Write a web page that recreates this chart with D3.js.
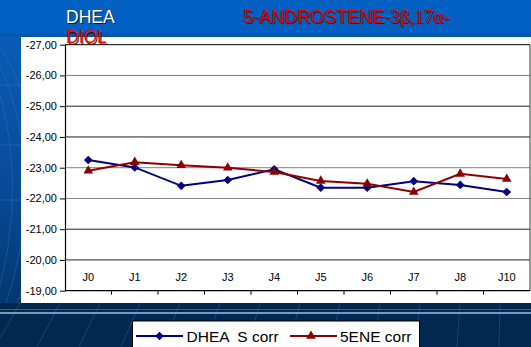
<!DOCTYPE html>
<html>
<head>
<meta charset="utf-8">
<script src="https://cdn.jsdelivr.net/npm/d3@7"></script>
<style>
  html, body { margin: 0; padding: 0; background: #003a78; }
  svg { display: block; }
</style>
</head>
<body>
<svg id="chart" width="531" height="347"></svg>
<script>
// Sampling days
const categories = ["J0", "J1", "J2", "J3", "J4", "J5", "J6", "J7", "J8", "J10"];
// Corrected values per series
const dheaValues = [-23.25, -23.01, -22.41, -22.60, -22.95, -22.35, -22.35, -22.56, -22.44, -22.21];
const eneValues  = [-22.90, -23.18, -23.08, -23.00, -22.86, -22.57, -22.48, -22.21, -22.80, -22.63];
// Y axis tick values (axis runs from -27 at top to -19 at bottom)
const yTicks = [-27, -26, -25, -24, -23, -22, -21, -20, -19];
const seriesNames = ["DHEA  S corr", "5ENE corr"];

const svg = d3.select("#chart");
const W = 531, H = 347;

// ---- Slide background ----
const defs = svg.append("defs");
const lg = defs.append("linearGradient").attr("id", "bgGrad")
  .attr("x1", 0).attr("y1", 0).attr("x2", 0).attr("y2", 1);
lg.append("stop").attr("offset", "0%").attr("stop-color", "#0a5fbe");
lg.append("stop").attr("offset", "55%").attr("stop-color", "#084a96");
lg.append("stop").attr("offset", "100%").attr("stop-color", "#02305f");
svg.append("rect").attr("width", W).attr("height", H).attr("fill", "url(#bgGrad)");

// faint decorative arcs on the left
[120, 170, 230].forEach((r, i) => {
  svg.append("path")
    .attr("d", `M ${-20 + i * 8} 40 Q ${r / 3} 170 ${-10 + i * 10} 320`)
    .attr("fill", "none").attr("stroke", "#3f86d6").attr("stroke-opacity", 0.3).attr("stroke-width", 1);
});
[85, 145, 200].forEach(y => {
  svg.append("line").attr("x1", 0).attr("x2", 21).attr("y1", y).attr("y2", y)
    .attr("stroke", "#3f86d6").attr("stroke-opacity", 0.35);
});

// title band
svg.append("rect").attr("x", 0).attr("y", 0).attr("width", W).attr("height", 33).attr("fill", "#0061c2");
svg.append("rect").attr("x", 0).attr("y", 33).attr("width", W).attr("height", 4).attr("fill", "#0656ad");

// bottom band
svg.append("rect").attr("x", 0).attr("y", 303).attr("width", W).attr("height", H - 303).attr("fill", "#03284f");
for (let i = 0; i < 14; i++) {
  const x0 = 20 + i * 40;
  svg.append("line").attr("x1", x0).attr("y1", 303).attr("x2", x0 - 25 + i * 2).attr("y2", H)
    .attr("stroke", "#2a67a8").attr("stroke-opacity", 0.45).attr("stroke-width", 1);
}
svg.append("line").attr("x1", 0).attr("x2", W).attr("y1", 313).attr("y2", 313)
  .attr("stroke", "#9cc0e0").attr("stroke-width", 1.6);
svg.append("line").attr("x1", 0).attr("x2", W).attr("y1", 309.5).attr("y2", 309.5)
  .attr("stroke", "#4f86bf").attr("stroke-opacity", 0.6).attr("stroke-width", 1);

// chart area
svg.append("rect").attr("x", 21).attr("y", 37).attr("width", W - 21).attr("height", 266).attr("fill", "#ffffff");

// ---- Plot ----
const plot = { left: 65, right: 530, top: 44.7, bottom: 290.7 };
const x = d3.scaleBand().domain(categories).range([plot.left, plot.right]);
const y = d3.scaleLinear().domain([-27, -19]).range([plot.top, plot.bottom]);

// gridlines
const g = svg.append("g");
g.selectAll("line.grid").data(yTicks.slice(1, -1)).join("line")
  .attr("class", "grid")
  .attr("x1", plot.left).attr("x2", plot.right)
  .attr("y1", d => y(d)).attr("y2", d => y(d))
  .attr("stroke", d => (d === -23 || d === -22 || d === -26) ? "#808080" : "#202020")
  .attr("stroke-width", 1);

// frame top / right
g.append("line").attr("x1", plot.left).attr("x2", plot.right).attr("y1", plot.top).attr("y2", plot.top)
  .attr("stroke", "#000").attr("stroke-width", 1);
g.append("line").attr("x1", plot.right).attr("x2", plot.right).attr("y1", plot.top).attr("y2", plot.bottom)
  .attr("stroke", "#555").attr("stroke-width", 1.2);

// Y axis
const yAxis = d3.axisLeft(y).tickValues(yTicks)
  .tickFormat(d => d3.format(".2f")(d).replace(".", ",").replace("−", "-"))
  .tickSize(5).tickSizeOuter(0);
const ya = svg.append("g").attr("transform", `translate(${plot.left},0)`).call(yAxis);
ya.select(".domain").attr("stroke", "#000").attr("stroke-width", 1.2);
ya.selectAll(".tick line").attr("stroke", "#000");
ya.selectAll(".tick text").attr("font-family", "Liberation Sans, Arial, sans-serif")
  .attr("font-size", 11).attr("fill", "#000").attr("x", -8);

// X axis: labels inside plot above the axis, ticks between categories
const xa = svg.append("g").attr("transform", `translate(0,${plot.bottom})`);
xa.append("line").attr("x1", plot.left).attr("x2", plot.right).attr("y1", 0).attr("y2", 0)
  .attr("stroke", "#000").attr("stroke-width", 1.2);
xa.selectAll("line.tk").data(categories.slice(1)).join("line").attr("class", "tk")
  .attr("x1", d => x(d)).attr("x2", d => x(d)).attr("y1", 0).attr("y2", 4)
  .attr("stroke", "#000");
xa.selectAll("text").data(categories).join("text")
  .attr("x", d => x(d) + x.bandwidth() / 2).attr("y", -10)
  .attr("text-anchor", "middle")
  .attr("font-family", "Liberation Sans, Arial, sans-serif").attr("font-size", 11)
  .attr("fill", "#000").text(d => d);

// series
const cx = d => x(d) + x.bandwidth() / 2;
const line = d3.line().x((d, i) => cx(categories[i])).y(d => y(d));
const blue = "#000080", red = "#8b0000";

svg.append("path").datum(dheaValues).attr("d", line)
  .attr("fill", "none").attr("stroke", blue).attr("stroke-width", 2);
svg.append("path").datum(eneValues).attr("d", line)
  .attr("fill", "none").attr("stroke", red).attr("stroke-width", 2);

const diamond = d3.symbol().type(d3.symbolSquare).size(38);
const tri = d3.symbol().type(d3.symbolTriangle).size(40);

svg.selectAll("path.d").data(dheaValues).join("path").attr("class", "d")
  .attr("d", diamond)
  .attr("transform", (d, i) => `translate(${cx(categories[i])},${y(d)}) rotate(45)`)
  .attr("fill", blue);
svg.selectAll("path.t").data(eneValues).join("path").attr("class", "t")
  .attr("d", tri)
  .attr("transform", (d, i) => `translate(${cx(categories[i])},${y(d)})`)
  .attr("fill", red);

// ---- Titles ----
function shadowText(tx, ty, fill, size, family) {
  const t1 = svg.append("text").attr("x", tx + 1.3).attr("y", ty + 1.3)
    .attr("font-family", family).attr("font-size", size).attr("fill", "#111").attr("fill-opacity", 0.8);
  const t2 = svg.append("text").attr("x", tx).attr("y", ty)
    .attr("font-family", family).attr("font-size", size).attr("fill", fill);
  return [t1, t2];
}
const sans = "Liberation Sans, Arial, sans-serif";
const serif = "Liberation Serif, Times New Roman, serif";

shadowText(66, 22.5, "#ffffff", 17.5, sans).forEach(t => t.text("DHEA"));
shadowText(66, 43.3, "#ff0000", 17.5, sans).forEach(t => t.text("DIOL"));
shadowText(243, 22.7, "#e80000", 18, sans).forEach(t => {
  t.append("tspan").text("5-ANDROSTENE-");
  t.append("tspan").attr("font-family", serif).attr("font-size", 19).text("3β,17α-");
});

// ---- Legend ----
const leg = svg.append("g");
leg.append("rect").attr("x", 132.5).attr("y", 321).attr("width", 287).attr("height", 30)
  .attr("fill", "#fff").attr("stroke", "#000").attr("stroke-width", 1);
const legY = 336;
const legendItems = [
  { name: seriesNames[0], color: blue, sym: "d", x0: 136, x1: 183, mx: 159.5, tx: 186.5 },
  { name: seriesNames[1], color: red, sym: "t", x0: 290, x1: 337, mx: 311, tx: 340 }
];
legendItems.forEach(it => {
  leg.append("line").attr("x1", it.x0).attr("x2", it.x1).attr("y1", legY).attr("y2", legY)
    .attr("stroke", it.color).attr("stroke-width", 2.2);
  leg.append("path")
    .attr("d", it.sym === "d" ? diamond() : tri())
    .attr("transform", `translate(${it.mx},${legY})` + (it.sym === "d" ? " rotate(45)" : ""))
    .attr("fill", it.color);
  leg.append("text").attr("x", it.tx).attr("y", legY + 5.5)
    .attr("font-family", sans).attr("font-size", 15.5).attr("fill", "#000")
    .attr("xml:space", "preserve").style("white-space", "pre").text(it.name);
});
</script>
</body>
</html>
